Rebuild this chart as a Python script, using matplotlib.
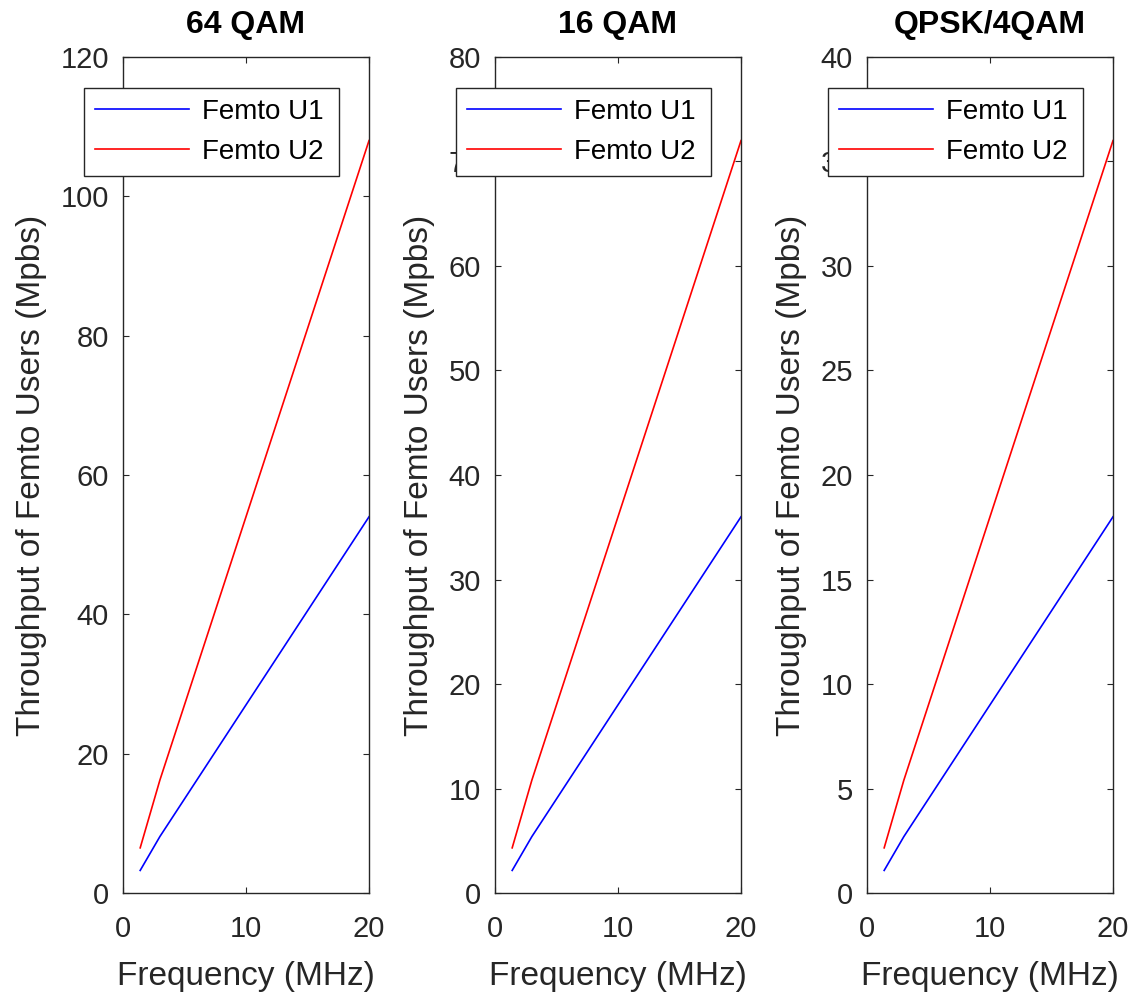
import matplotlib
matplotlib.use("Agg")
import matplotlib.pyplot as plt

plt.rcParams['font.family'] = ['Liberation Sans', 'DejaVu Sans']

# LTE channel bandwidths (MHz)
freq = [1.4, 3, 5, 10, 15, 20]

titles = ["64 QAM", "16 QAM", "QPSK/4QAM"]
u1 = [
    [3.24, 8.1, 13.5, 27.0, 40.5, 54.0],
    [2.16, 5.4, 9.0, 18.0, 27.0, 36.0],
    [1.08, 2.7, 4.5, 9.0, 13.5, 18.0],
]
u2 = [
    [6.48, 16.2, 27.0, 54.0, 81.0, 108.0],
    [4.32, 10.8, 18.0, 36.0, 54.0, 72.0],
    [2.16, 5.4, 9.0, 18.0, 27.0, 36.0],
]
ylims = [120, 80, 40]
yticks = [
    [0, 20, 40, 60, 80, 100, 120],
    [0, 10, 20, 30, 40, 50, 60, 70, 80],
    [0, 5, 10, 15, 20, 25, 30, 35, 40],
]
xticks = [0, 10, 20]

txt = '#262626'
fig = plt.figure(figsize=(11.46, 9.98), dpi=100)
lefts = [0.1073, 0.4319, 0.7565]

for i in range(3):
    ax = fig.add_axes([lefts[i], 0.1052, 0.2147, 0.8377])
    ax.plot(freq, u1[i], color='#0000ff', lw=1.2, label='Femto U1')
    ax.plot(freq, u2[i], color='#ff0000', lw=1.2, label='Femto U2')
    ax.set_xlim(0, 20)
    ax.set_ylim(0, ylims[i])
    ax.set_xticks(xticks)
    ax.set_yticks(yticks[i])
    ax.tick_params(direction='in', top=True, right=True, length=4.5, width=0.8,
                   labelsize=21, colors=txt)
    ax.tick_params(axis='y', pad=10)
    ax.tick_params(axis='x', pad=16)
    for s in ax.spines.values():
        s.set_color(txt)
        s.set_linewidth(1.0)
    ax.set_title(titles[i], fontsize=23, fontweight='bold', color='black', pad=17)
    ax.set_xlabel("Frequency (MHz)", fontsize=24, color=txt, labelpad=13)
    ax.set_ylabel("Throughput of Femto Users (Mpbs)", fontsize=24, color=txt, labelpad=10)
    leg = ax.legend(loc='upper left', bbox_to_anchor=(-0.16, 0.0, 1.04, 0.963),
                    mode='expand', borderaxespad=0, fontsize=20, handlelength=3.4,
                    handletextpad=0.45, labelspacing=0.5, borderpad=0.4,
                    fancybox=False, framealpha=1, edgecolor=txt)
    leg.get_frame().set_linewidth(1.0)
    for t in leg.get_texts():
        t.set_color('black')

fig.savefig("out.png", dpi=100)
